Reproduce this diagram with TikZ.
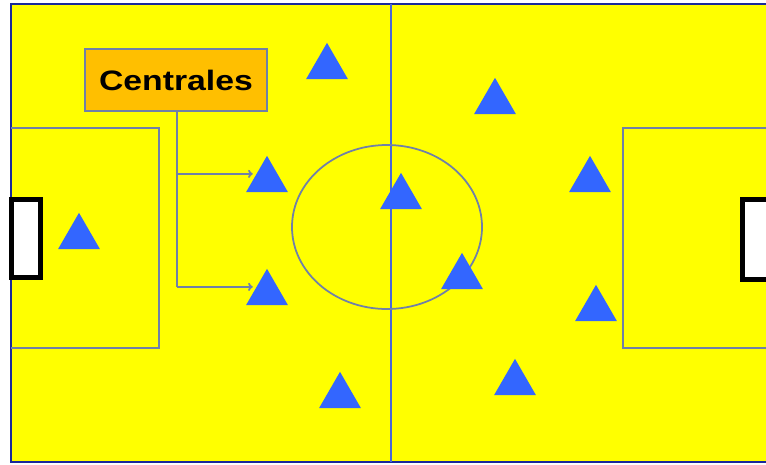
\documentclass[tikz,border=0pt]{standalone}
\usepackage{fontspec}
\newfontfamily\labelfont{Liberation Sans}
\usetikzlibrary{shapes,arrows,arrows.meta,positioning,calc}

\definecolor{pitch}{HTML}{FFFF00}
\definecolor{player}{HTML}{3366FF}
\definecolor{tag}{HTML}{FFBF00}
\definecolor{chalk}{HTML}{7080A8}
\definecolor{border}{HTML}{1A2A9A}
\definecolor{half}{HTML}{4A68D8}

\begin{document}
\begin{tikzpicture}[
    x=0.03cm, y=-0.03cm,
    man/.style={regular polygon, regular polygon sides=3, fill=player, draw=none, minimum size=1.45cm, inner sep=0pt},
    label/.style={rectangle, draw=chalk, line width=1.5pt, fill=tag, minimum width=5.46cm, minimum height=1.86cm, font=\labelfont\bfseries\fontsize{24}{28}\selectfont},
    line/.style={draw=chalk, line width=1.5pt},
    arrow/.style={-{To[length=4pt,width=7pt]}, draw=chalk, line width=1.5pt},
    goal/.style={draw=black, fill=white, line width=4.2pt}
]
    \useasboundingbox (0,0) rectangle (766,464);
    \clip (0,0) rectangle (766,464);

    % pitch
    \fill[pitch] (11,4) rectangle (780,462);
    \draw[border, line width=2pt] (780,4) -- (11,4) -- (11,462) -- (780,462);
    \draw[half, line width=1.5pt] (391,4) -- (391,462);
    \draw[line] (387,227) ellipse [x radius=95, y radius=82];
    \draw[line] (11,128) -- (159,128) -- (159,348) -- (11,348);
    \draw[line] (780,128) -- (623,128) -- (623,348) -- (780,348);
    \draw[goal] (11.5,199.5) rectangle (40.5,277.5);
    \draw[goal] (742.5,199.5) rectangle (775,279.5);

    % players
    \node[man] (p1) at (327,67) {};
    \node[man] (p2) at (267,180) {};
    \node[man] (p3) at (267,293) {};
    \node[man] (p4) at (79,237) {};
    \node[man] (p5) at (401,197) {};
    \node[man] (p6) at (462,277) {};
    \node[man] (p7) at (495,102) {};
    \node[man] (p8) at (590,180) {};
    \node[man] (p9) at (596,309) {};
    \node[man] (p10) at (340,396) {};
    \node[man] (p11) at (515,383) {};

    % label
    \node[label] (cent) at (176,80) {\scalebox{1.2}[1]{Centrales}};
    \coordinate (j1) at ($(cent.south)+(1,62)$);
    \coordinate (j2) at ($(cent.south)+(1,175)$);

    \draw[line] ($(cent.south)+(1,0)$) -- (j2);
    \draw[arrow] (j1) -- (j1 -| p2.west);
    \draw[arrow] (j2) -- (j2 -| p3.west);
\end{tikzpicture}
\end{document}
